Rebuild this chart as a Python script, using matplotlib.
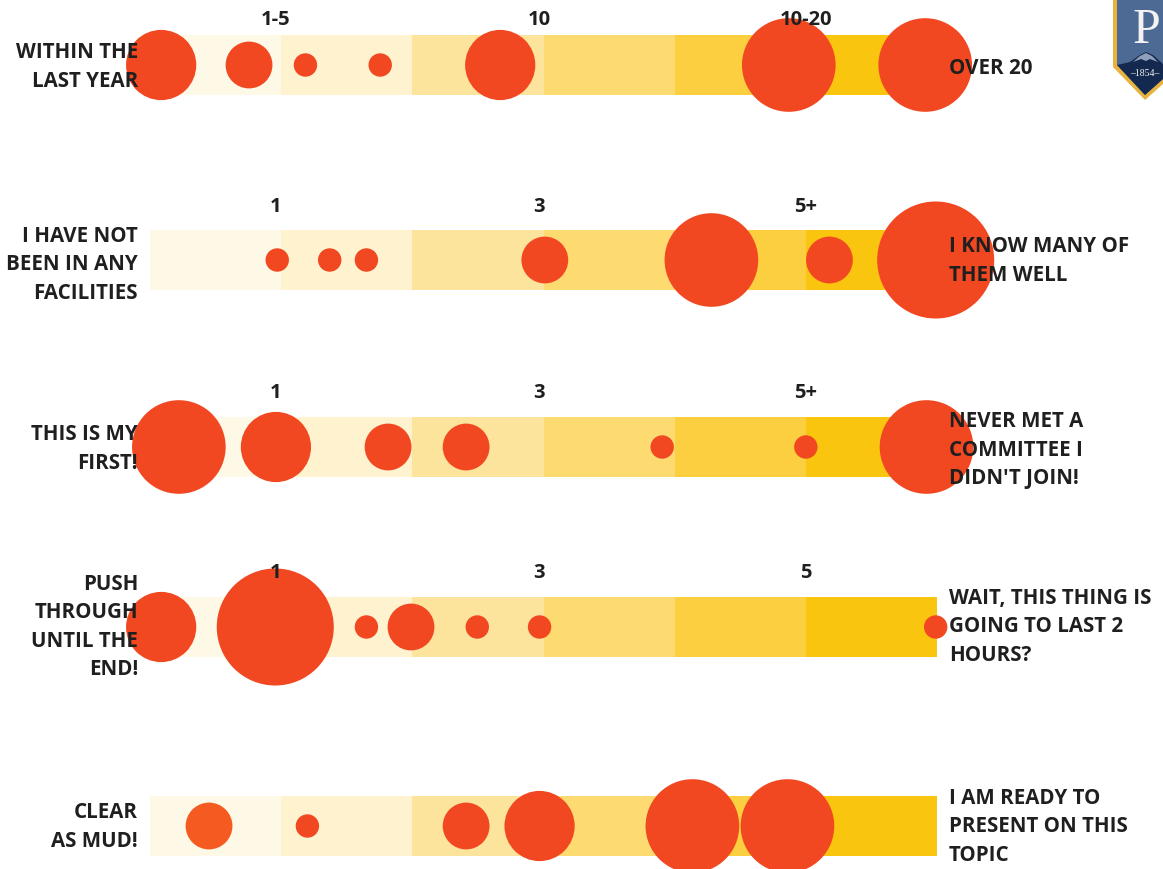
import matplotlib
matplotlib.use("Agg")
import matplotlib.pyplot as plt
from matplotlib.patches import Polygon

plt.rcParams["font.family"] = ["Open Sans", "DejaVu Sans"]

W, H = 1163, 869
DPI = 100

# scale runs 0-6 along the strip, bubble size = number of responses
row1_pos = [0.085, 0.755, 1.185, 1.755, 2.67, 4.87, 5.91]
row1_n = [9, 4, 1, 1, 9, 16, 16]
row2_pos = [0.97, 1.37, 1.65, 3.01, 4.28, 5.18, 5.99]
row2_n = [1, 1, 1, 4, 16, 4, 25]
row3_pos = [0.22, 0.96, 1.815, 2.41, 3.905, 5.0, 5.92]
row3_n = [16, 9, 4, 4, 1, 1, 16]
row4_pos = [0.085, 0.955, 1.65, 1.99, 2.495, 2.97, 5.99]
row4_n = [9, 25, 1, 4, 1, 1, 1]
row5_pos = [0.45, 1.2, 2.41, 2.97, 4.135, 4.86]
row5_n = [4, 1, 4, 9, 16, 16]

left_labels = ["WITHIN THE\nLAST YEAR", "I HAVE NOT\nBEEN IN ANY\nFACILITIES", "THIS IS MY\nFIRST!",
               "PUSH\nTHROUGH\nUNTIL THE\nEND!", "CLEAR\nAS MUD!"]
right_labels = ["OVER 20", "I KNOW MANY OF\nTHEM WELL", "NEVER MET A\nCOMMITTEE I\nDIDN'T JOIN!",
                "WAIT, THIS THING IS\nGOING TO LAST 2\nHOURS?", "I AM READY TO\nPRESENT ON THIS\nTOPIC"]
tick_pos = [0.955, 2.965, 5.0]
tick_labels = [["1-5", "10", "10-20"], ["1", "3", "5+"], ["1", "3", "5+"], ["1", "3", "5"], []]

segment_colors = ["#FEF8E6", "#FEF2CF", "#FDE49C", "#FDDB70", "#FBCF3F", "#F9C50F"]
bubble_color = "#F24822"
first_bubble_row5 = "#F55A20"
text_color = "#1F1F1F"

row_y = [65, 260, 447, 627, 826]
tick_offset = [45, 53, 54, 54, 0]
left_dy = [2, 5, 2, 0, 1]
right_dy = [3, 1, 3, 0, 1]
rows = [(row1_pos, row1_n), (row2_pos, row2_n), (row3_pos, row3_n), (row4_pos, row4_n), (row5_pos, row5_n)]

fig = plt.figure(figsize=(W / DPI, H / DPI), dpi=DPI)
# axes span the strip in x, whole image height in y
ax = fig.add_axes([150 / W, 0, (937 - 150) / W, 1])
ax.set_xlim(0, 6)
ax.set_ylim(H, 0)
ax.axis("off")

for i, y in enumerate(row_y):
    for k, c in enumerate(segment_colors):
        ax.barh(y, 1, left=k, height=60, color=c, linewidth=0, zorder=1)

    pos, n = rows[i]
    colors = [bubble_color] * len(pos)
    if i == 4:
        colors[0] = first_bubble_row5
    ax.scatter(pos, [y] * len(pos), s=[284 * v for v in n], c=colors, linewidths=0,
               clip_on=False, zorder=2)

    for t, lab in zip(tick_pos, tick_labels[i]):
        ax.text(t, y - tick_offset[i], lab, ha="center", va="center", fontsize=14.5,
                fontweight="bold", color=text_color, zorder=3)

    px = (138 - 150) / 131.17
    ax.text(px, y + left_dy[i], left_labels[i], ha="right", va="center", fontsize=14.8, fontweight="bold",
            color=text_color, linespacing=1.46, zorder=3)
    px = (949 - 150) / 131.17
    ax.text(px, y + right_dy[i], right_labels[i], ha="left", va="center", fontsize=14.8, fontweight="bold",
            color=text_color, linespacing=1.46, zorder=3)

# college crest, top right corner
fx = fig.transFigure
def to_fig(pts):
    return [(x / W, 1 - y / H) for x, y in pts]

fig.patches.append(Polygon(to_fig([(1113, 0), (1163, 0), (1163, 84), (1145, 100), (1113, 67)]),
                           closed=True, facecolor="#E8B33C", edgecolor="none", transform=fx))
fig.patches.append(Polygon(to_fig([(1117, 0), (1163, 0), (1163, 79), (1145, 95), (1117, 65)]),
                           closed=True, facecolor="#4D6A94", edgecolor="none", transform=fx))
fig.patches.append(Polygon(to_fig([(1117, 65), (1130, 62), (1140, 55), (1146, 52), (1153, 55), (1163, 64), (1163, 79), (1145, 95)]),
                           closed=True, facecolor="#14294F", edgecolor="none", transform=fx))
fig.patches.append(Polygon(to_fig([(1133, 62), (1140, 56), (1146, 53), (1152, 56), (1158, 62), (1150, 59), (1146, 61), (1141, 59)]),
                           closed=True, facecolor="#8FA0BC", edgecolor="none", transform=fx))
fig.text(1146 / W, 1 - 31 / H, "P", ha="center", va="center", fontsize=36, color="#F2F2F2", family="Liberation Serif")
fig.text(1145 / W, 1 - 74 / H, "\u20131854\u2013", ha="center", va="center", fontsize=7, color="#F2F2F2", family="Liberation Serif")

fig.savefig("out.png", dpi=DPI)
